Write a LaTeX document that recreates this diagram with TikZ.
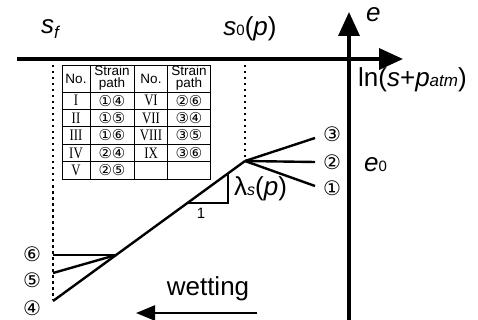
\documentclass[tikz,border=0pt]{standalone}
\usepackage{fontspec}
\setmainfont{Liberation Sans}
\newfontfamily\circfont{DejaVu Sans}
\newfontfamily\romfont{Liberation Serif}
\usetikzlibrary{arrows.meta}
\tikzset{
  axis/.style={line width=3.5pt,-{Triangle[length=24pt,width=21pt]}},
  curveline/.style={line width=2.4pt},
  slopeline/.style={line width=1.8pt},
  guide/.style={line width=1.8pt,dash pattern=on 2.5pt off 3.5pt},
  cell/.style={line width=0.9pt},
  wetarrow/.style={line width=2.4pt,-{Triangle[length=19pt,width=15pt]}},
  circnum/.style={font=\circfont\fontsize{20}{20}\selectfont,inner sep=0pt},
  tabcirc/.style={font=\circfont\fontsize{15}{15}\selectfont,inner sep=0pt},
  tabhead/.style={font=\fontsize{13.5}{12}\selectfont,align=center,inner sep=0pt},
  tabrom/.style={font=\romfont\fontsize{16}{16}\selectfont,inner sep=0pt,xscale=0.8},
  biglabel/.style={font=\fontsize{26}{26}\selectfont,inner sep=0pt}
}

\begin{document}
\begin{tikzpicture}[x=1pt,y=-1pt]
  \useasboundingbox (0,0) rectangle (478,320);

  % axes
  \coordinate (xs) at (17,59);
  \coordinate (xe) at (403,59);
  \coordinate (yb) at (349,320);
  \coordinate (ye) at (349,12);
  \draw[axis] (xs) -- (xe);
  \draw[axis] (yb) -- (ye);
  \node[biglabel,anchor=west] (elab) at (366,15) {\itshape e};
  \node[biglabel,anchor=west] (lnlab) at (358,80) {ln(\textit{s}+\textit{p}{\itshape\fontsize{17}{17}\selectfont atm})};
  \node[biglabel,anchor=west] (sflab) at (41,29) {\textit{s}\raisebox{-5pt}{\itshape\fontsize{17}{17}\selectfont f}};
  \node[biglabel] (s0lab) at (250,29) {\textit{s}{\fontsize{15}{15}\selectfont 0}(\textit{p})};

  % guides
  \coordinate (sft) at (53,65);
  \coordinate (sfb) at (53,300);
  \coordinate (s0t) at (245,65);
  \coordinate (s0b) at (245,159);
  \draw[guide] (sft) -- (sfb);
  \draw[guide] (s0t) -- (s0b);

  % strain paths
  \coordinate (p0) at (245,161);
  \coordinate (q) at (116,255);
  \coordinate (e1) at (315,186);
  \coordinate (e2) at (315,162);
  \coordinate (e3) at (315,138);
  \coordinate (e4) at (53,301);
  \coordinate (e5) at (53,273);
  \coordinate (e6) at (53,255);
  \draw[curveline] (e4) -- (p0);
  \draw[curveline] (p0) -- (e1);
  \draw[curveline] (p0) -- (e2);
  \draw[curveline] (p0) -- (e3);
  \draw[curveline] (q) -- (e5);
  \draw[curveline] (q) -- (e6);
  \node[circnum] (c1) at (332,188) {①};
  \node[circnum] (c2) at (332,162) {②};
  \node[circnum] (c3) at (332,134) {③};
  \node[circnum] (c4) at (32,308) {④};
  \node[circnum] (c5) at (32,280) {⑤};
  \node[circnum] (c6) at (32,254) {⑥};
  \node[biglabel,anchor=west] (e0lab) at (364,165) {\textit{e}{\fontsize{15}{15}\selectfont 0}};

  % slope triangle
  \coordinate (t1) at (187,203);
  \coordinate (tc) at (228,203);
  \coordinate (t2) at (228,173);
  \draw[slopeline] (t1) -- (tc) -- (t2);
  \node[font=\fontsize{15}{15}\selectfont] (one) at (201,213) {1};
  \node[biglabel,anchor=west] (lam) at (234,189) {λ{\itshape\fontsize{16}{16}\selectfont s}(\textit{p})};

  % table of paths
  \draw[cell] (62,65) rectangle (210,179);
  \draw[cell] (90,65) -- (90,179);
  \draw[cell] (134,65) -- (134,179);
  \draw[cell] (167,65) -- (167,179);
  \draw[cell] (62,92) -- (210,92);
  \draw[cell] (62,109.4) -- (210,109.4);
  \draw[cell] (62,126.8) -- (210,126.8);
  \draw[cell] (62,144.2) -- (210,144.2);
  \draw[cell] (62,161.6) -- (210,161.6);
  \node[tabhead] (h1) at (76,79) {No.};
  \node[tabhead] (h2) at (112,78) {Strain\\path};
  \node[tabhead] (h3) at (151,79) {No.};
  \node[tabhead] (h4) at (189,78) {Strain\\path};
  \node[tabrom] (n1) at (76,100.7) {I};
  \node[tabrom] (n2) at (76,118.1) {II};
  \node[tabrom] (n3) at (76,135.5) {III};
  \node[tabrom] (n4) at (76,152.9) {IV};
  \node[tabrom] (n5) at (76,170.3) {V};
  \node[tabrom] (n6) at (151,100.7) {VI};
  \node[tabrom] (n7) at (151,118.1) {VII};
  \node[tabrom] (n8) at (151,135.5) {VIII};
  \node[tabrom] (n9) at (151,152.9) {IX};
  \node[tabcirc] (s1) at (112,100.7) {①④};
  \node[tabcirc] (s2) at (112,118.1) {①⑤};
  \node[tabcirc] (s3) at (112,135.5) {①⑥};
  \node[tabcirc] (s4) at (112,152.9) {②④};
  \node[tabcirc] (s5) at (112,170.3) {②⑤};
  \node[tabcirc] (s6) at (189,100.7) {②⑥};
  \node[tabcirc] (s7) at (189,118.1) {③④};
  \node[tabcirc] (s8) at (189,135.5) {③⑤};
  \node[tabcirc] (s9) at (189,152.9) {③⑥};

  % wetting direction
  \coordinate (w0) at (257,313);
  \coordinate (w1) at (136,313);
  \draw[wetarrow] (w0) -- (w1);
  \node[font=\fontsize{26}{26}\selectfont] (wet) at (208,289) {wetting};
\end{tikzpicture}
\end{document}
